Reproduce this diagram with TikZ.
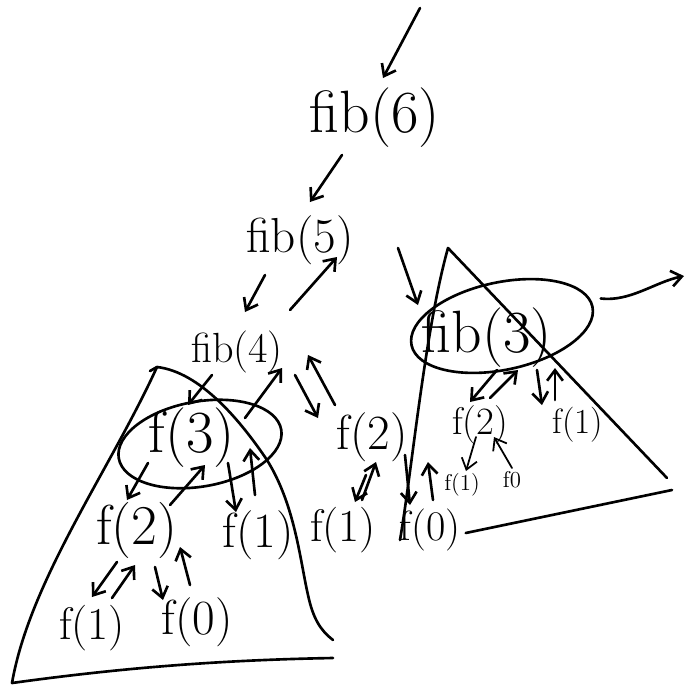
\documentclass[tikz,border=0pt]{standalone}
\usetikzlibrary{arrows.meta}
\usetikzlibrary{shapes.geometric}

\begin{document}
\begin{tikzpicture}[
        % one unit is one pixel of the sketch, y grows downwards
        x=0.02cm, y=-0.02cm,
        line width=1.5pt, line cap=round, line join=round,
        lbl/.style={inner sep=0pt, font=\fontsize{#1}{#1}\selectfont},
        hop/.style={-{Straight Barb[length=6pt,width=9pt]}},
        ring/.style={draw, ellipse, inner sep=0pt}
        ]
        \useasboundingbox (0,0) rectangle (695,698);

        % calls
        \coordinate (start) at (420,8);
        \node [lbl=34] (fibsix) at (375,118) {fib(6)};
        \node [lbl=28] (fibfive) at (300,240) {fib(5)};
        \node [lbl=24] (fibfour) at (237,352) {fib(4)};
        \node [lbl=34] (fthree) at (192,438) {f(3)};
        \node [lbl=32] (ftwoL) at (137,530) {f(2)};
        \node [lbl=28] (foneA) at (258,535) {f(1)};
        \node [lbl=26] (foneL) at (92,628) {f(1)};
        \node [lbl=28] (fzeroL) at (197,622) {f(0)};
        \node [lbl=28] (ftwoM) at (372,437) {f(2)};
        \node [lbl=26] (foneM) at (343,530) {f(1)};
        \node [lbl=24] (fzeroM) at (430,530) {f(0)};
        \node [lbl=34] (fibthree) at (487,338) {fib(3)};
        \node [lbl=22] (ftwoR) at (480,425) {f(2)};
        \node [lbl=20] (foneR) at (578,425) {f(1)};
        \node [lbl=13] (foneS) at (462,485) {f(1)};
        \node [lbl=13] (fzeroS) at (512,480) {f0};
        \coordinate (nextcall) at (684,276);

        % rings round the repeated calls
        \node [ring, minimum width=3.3cm, minimum height=1.7cm, rotate=10] (ringthree) at (200,444) {};
        \node [ring, minimum width=3.7cm, minimum height=1.75cm, rotate=12] (ringfib) at (502,326) {};

        % the two subtrees
        \draw (150,371) -- (157,367) .. controls (200,372) and (240,420) .. (267,460)
              .. controls (295,505) and (300,560) .. (308,595)
              .. controls (313,618) and (320,630) .. (333,640);
        \draw (157,367) .. controls (110,470) and (30,580) .. (12,683)
              .. controls (120,668) and (220,660) .. (333,658);
        \draw (400,540) .. controls (412,470) and (425,330) .. (448,248) -- (667,478);
        \draw (fzeroM.east) ++(4,3) -- (672,490);

        % down = call, up = return
        \draw[hop] (start) -- ([shift={(8,-40)}]fibsix.center);
        \draw[hop] ([shift={(-33,37)}]fibsix.center) -- ([shift={(10,-38)}]fibfive.center);
        \draw[hop] ([shift={(-35,35)}]fibfive.center) -- ([shift={(8,-40)}]fibfour.center);
        \draw[hop] ([shift={(53,-42)}]fibfour.center) -- ([shift={(37,17)}]fibfive.center);
        \draw[hop] ([shift={(98,8)}]fibfive.center) -- ([shift={(-69,-33)}]fibthree.center);
        \draw[hop] ([shift={(-25,23)}]fibfour.center) -- ([shift={(-4,-33)}]fthree.center);
        \draw[hop] ([shift={(53,-20)}]fthree.center) -- ([shift={(45,16)}]fibfour.center);
        \draw[hop] ([shift={(58,23)}]fibfour.center) -- ([shift={(-54,-19)}]ftwoM.center);
        \draw[hop] ([shift={(-37,-32)}]ftwoM.center) -- ([shift={(71,3)}]fibfour.center);
        \draw[hop] ([shift={(-44,25)}]fthree.center) -- ([shift={(-10,-30)}]ftwoL.center);
        \draw[hop] ([shift={(33,-25)}]ftwoL.center) -- ([shift={(13,27)}]fthree.center);
        \draw[hop] ([shift={(36,25)}]fthree.center) -- ([shift={(-22,-23)}]foneA.center);
        \draw[hop] ([shift={(-3,-40)}]foneA.center) -- ([shift={(58,10)}]fthree.center);
        \draw[hop] ([shift={(-20,32)}]ftwoL.center) -- ([shift={(0,-31)}]foneL.center);
        \draw[hop] ([shift={(20,-30)}]foneL.center) -- ([shift={(-2,35)}]ftwoL.center);
        \draw[hop] ([shift={(18,37)}]ftwoL.center) -- ([shift={(-34,-22)}]fzeroL.center);
        \draw[hop] ([shift={(-7,-37)}]fzeroL.center) -- ([shift={(43,17)}]ftwoL.center);
        \draw[hop] ([shift={(-6,38)}]ftwoM.center) -- ([shift={(12,-28)}]foneM.center);
        \draw[hop] ([shift={(19,-30)}]foneM.center) -- ([shift={(4,25)}]ftwoM.center);
        \draw[hop] ([shift={(33,18)}]ftwoM.center) -- ([shift={(-20,-25)}]fzeroM.center);
        \draw[hop] ([shift={(3,-30)}]fzeroM.center) -- ([shift={(56,25)}]ftwoM.center);
        \draw[hop] ([shift={(10,32)}]fibthree.center) -- ([shift={(-10,-23)}]ftwoR.center);
        \draw[hop] ([shift={(10,-27)}]ftwoR.center) -- ([shift={(31,32)}]fibthree.center);
        \draw[hop] ([shift={(50,32)}]fibthree.center) -- ([shift={(-36,-20)}]foneR.center);
        \draw[hop] ([shift={(-23,-25)}]foneR.center) -- ([shift={(68,30)}]fibthree.center);
        \draw[hop, line width=1pt] ([shift={(-4,12)}]ftwoR.center) -- ([shift={(4,-14)}]foneS.center);
        \draw[hop, line width=1pt] ([shift={(0,-12)}]fzeroS.center) -- ([shift={(14,12)}]ftwoR.center);

        % on to the next call
        \draw[hop] ([shift={(7,-8)}]ringfib.east) .. controls (630,302) and (655,282) .. (nextcall);
\end{tikzpicture}
\end{document}
